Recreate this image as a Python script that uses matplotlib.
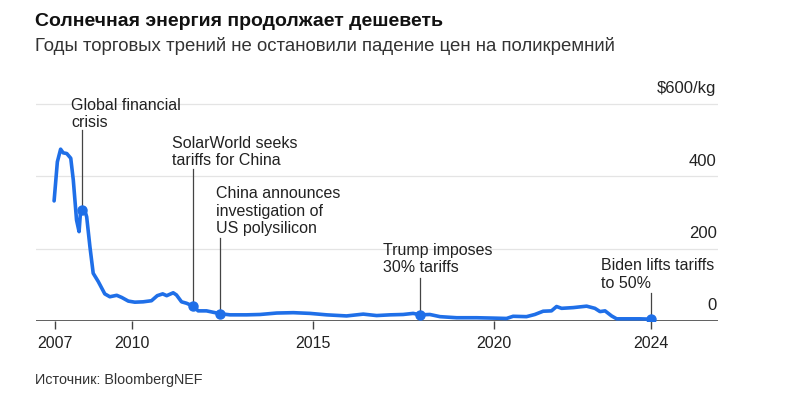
import matplotlib.pyplot as plt
import matplotlib.transforms as mtransforms
import numpy as np

plt.rcParams['font.family'] = ['Liberation Sans', 'DejaVu Sans']

# polysilicon price, $/kg
years = [2007.85, 2007.94, 2008.03, 2008.10, 2008.20, 2008.31, 2008.38, 2008.47,
         2008.54, 2008.58, 2008.68, 2008.75, 2008.84, 2008.93, 2009.07, 2009.25,
         2009.39, 2009.58, 2009.72, 2009.90, 2010.08, 2010.31, 2010.54, 2010.70,
         2010.85, 2010.96, 2011.14, 2011.23, 2011.37, 2011.51, 2011.69, 2011.83,
         2012.06, 2012.25, 2012.44, 2012.71, 2013.17, 2013.54, 2014.00, 2014.46,
         2014.92, 2015.38, 2015.93, 2016.39, 2016.76, 2017.13, 2017.49, 2017.77,
         2017.96, 2018.23, 2018.51, 2018.97, 2019.52, 2019.98, 2020.35, 2020.53,
         2020.90, 2021.13, 2021.36, 2021.59, 2021.73, 2021.87, 2022.19, 2022.56,
         2022.79, 2022.93, 2023.07, 2023.25, 2023.39, 2023.66, 2024.03, 2024.35]
price = [332, 440, 475, 465, 463, 450, 390, 279,
         247, 302, 312, 288, 205, 132, 109, 75,
         67, 71, 65, 55, 52, 53, 56, 70,
         75, 70, 78, 72, 53, 49, 41, 28,
         28, 24, 20, 17, 17, 18, 22, 23,
         21, 17, 14, 19, 15, 17, 18, 21,
         17, 18, 12, 9, 9, 8, 7, 13,
         12, 18, 27, 28, 40, 35, 37, 41,
         35, 26, 28, 14, 6, 6, 6, 5]

event_years = [2008.62, 2011.69, 2012.44, 2017.96, 2024.35]
event_labels = ["Global financial\ncrisis",
                "SolarWorld seeks\ntariffs for China",
                "China announces\ninvestigation of\nUS polysilicon",
                "Trump imposes\n30% tariffs",
                "Biden lifts tariffs\nto 50%"]
label_x = [2008.33, 2011.10, 2012.31, 2016.93, 2022.96]
label_y = [572, 467, 304, 171, 129]
stem_top = [528, 420, 229, 119, 77]

tick_pos = [2007.87, 2010, 2015, 2020, 2024.35]
tick_labels = ["2007", "2010", "2015", "2020", "2024"]
y_ticks = [0, 200, 400, 600]
y_tick_labels = ["0", "200", "400", "$600/kg"]

blue = "#1f6fe8"
dark = "#222222"

fig = plt.figure(figsize=(8, 4.11), dpi=100)
ax = fig.add_axes([0.045, 0.219, 0.8525, 0.572])
ax.set_xlim(2007.35, 2026.19)
ax.set_ylim(0, 650)

for s in ax.spines.values():
    s.set_visible(False)

# grid + right side labels sitting above the lines
trans = mtransforms.blended_transform_factory(ax.transAxes, ax.transData)
for v, lab in zip(y_ticks, y_tick_labels):
    if v > 0:
        ax.axhline(v, color="#e4e4e4", linewidth=0.9, zorder=0)
    ax.text(0.998, v + 21, lab, transform=trans, ha="right", va="bottom",
            fontsize=12, color=dark)
ax.axhline(0, color="#444444", linewidth=1.2, zorder=3)
ax.set_yticks([])

ax.plot(years, price, color=blue, linewidth=2.6, solid_capstyle="round",
        solid_joinstyle="round", zorder=4)

# event stems, dots and labels
for ex, lab, lx, ly, top in zip(event_years, event_labels, label_x, label_y, stem_top):
    ey = np.interp(ex, years, price)
    ax.plot([ex, ex], [ey, top], color="#444444", linewidth=0.9, zorder=3)
    ax.plot(ex, ey, "o", color=blue, markersize=6.5, zorder=5)
    ax.text(lx, ly, lab, ha="left", va="center", fontsize=11.5, color=dark,
            linespacing=1.2)

ax.set_xticks(tick_pos)
ax.set_xticklabels(tick_labels, fontsize=11.5, color=dark)
ax.tick_params(axis="x", length=6, width=1, color="#444444", pad=5)

fig.text(0.044, 0.948, "Солнечная энергия продолжает дешеветь", fontsize=14,
         fontweight="bold", color="#111111", va="center")
fig.text(0.044, 0.889, "Годы торговых трений не остановили падение цен на поликремний",
         fontsize=13.4, color="#333333", va="center")
fig.text(0.044, 0.075, "Источник: BloombergNEF", fontsize=10.4, color="#333333",
         va="center")

fig.savefig("out.png", dpi=100)
